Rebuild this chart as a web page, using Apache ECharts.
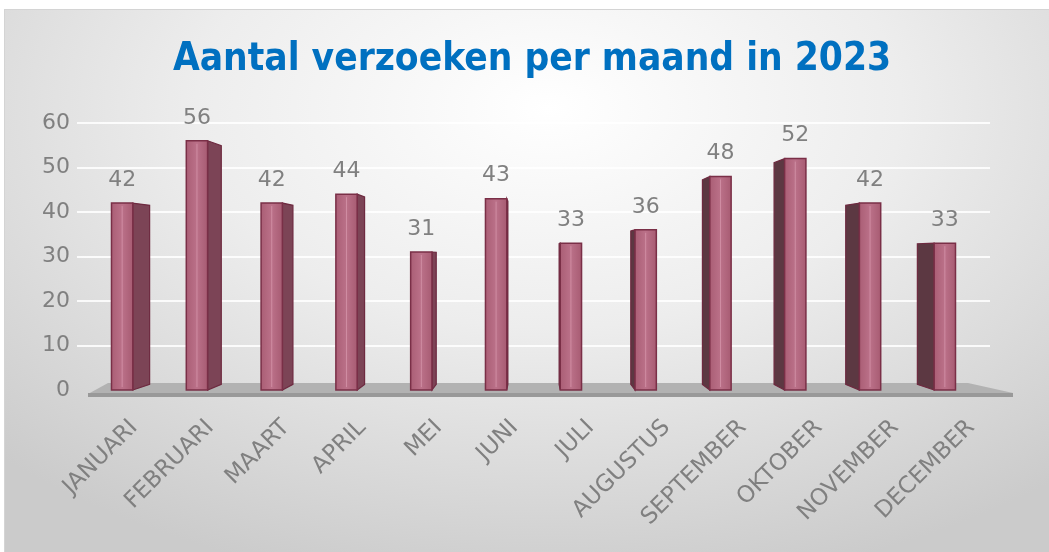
<!DOCTYPE html>
<html>
<head>
<meta charset="utf-8">
<script src="https://cdn.jsdelivr.net/npm/echarts@6/dist/echarts.min.js"></script>
<style>
  html, body { margin: 0; padding: 0; background: #fff; }
  #bg {
    position: absolute; left: 4px; top: 9px; width: 1045px; height: 543px;
    border-top: 1px solid #d4d4d4; border-left: 1px solid #d4d4d4;
    background: radial-gradient(ellipse 75% 90% at 52% 18%, #ffffff 0%, #ededed 45%, #cbcbcb 100%);
  }
  #chart { position: absolute; left: 0; top: 0; width: 1049px; height: 552px; }
</style>
</head>
<body>
<div id="bg"></div>
<div id="chart"></div>
<script>
// maanden en aantallen
const months = ['JANUARI', 'FEBRUARI', 'MAART', 'APRIL', 'MEI', 'JUNI', 'JULI', 'AUGUSTUS', 'SEPTEMBER', 'OKTOBER', 'NOVEMBER', 'DECEMBER']
const requests = [42, 56, 42, 44, 31, 43, 33, 36, 48, 52, 42, 33]
const yTicks = [0, 10, 20, 30, 40, 50, 60]

const K = 0.042 // diepte van de "3D" zijkant
const BACK = 0.983 // balken staan iets verder naar achteren dan de labels

// balk met zijkant die naar het midden wijkt
function renderBar(params, api) {
  const i = api.value(0)
  const v = api.value(1)
  const vp = [(api.coord([0, 0])[0] + api.coord([months.length - 1, 0])[0]) / 2, api.coord([0, 30])[1]]
  const p = api.coord([i, v])
  const base = api.coord([i, 0])
  const cx = vp[0] + (p[0] - vp[0]) * BACK
  const w = api.size([1, 0])[0] * 0.28
  const x0 = cx - w / 2
  const x1 = cx + w / 2
  const back = (x, y) => [x + (vp[0] - x) * K, y + (vp[1] - y) * K]
  const onLeft = cx < vp[0]
  const ex = onLeft ? x1 : x0
  const side = [[ex, p[1]], [ex, base[1]], back(ex, base[1]), back(ex, p[1])]

  return {
    type: 'group',
    children: [
      {
        type: 'polygon',
        shape: { points: side },
        style: { fill: onLeft ? '#7c4456' : '#5c3842', stroke: '#6e2a40', lineWidth: 1.2 }
      },
      {
        type: 'rect',
        shape: { x: x0, y: p[1], width: w, height: base[1] - p[1] },
        style: {
          fill: new echarts.graphic.LinearGradient(0, 0, 1, 0, [
            { offset: 0, color: '#a95d74' },
            { offset: 0.5, color: '#bb7189' },
            { offset: 1, color: '#a65a71' }
          ]),
          stroke: '#7a2f47', lineWidth: 1.5
        }
      },
      {
        type: 'line',
        shape: { x1: cx, y1: p[1] + 3, x2: cx, y2: base[1] - 3 },
        style: { stroke: 'rgba(230,170,190,0.5)', lineWidth: 1 }
      },
      {
        type: 'text',
        x: cx,
        y: p[1] - 12,
        style: {
          text: String(v),
          align: 'center',
          verticalAlign: 'bottom',
          fill: '#808080',
          font: '22px "DejaVu Sans"'
        }
      }
    ]
  }
}

const chart = echarts.init(document.getElementById('chart'), null, { renderer: 'canvas' })

chart.setOption({
  animation: false,
  backgroundColor: 'transparent',
  title: {
    text: 'Aantal verzoeken per maand in 2023',
    left: 527,
    top: 35,
    textAlign: 'center',
    textStyle: {
      color: '#0070c0',
      fontFamily: '"DejaVu Sans Condensed", "DejaVu Sans"',
      fontWeight: 'bold',
      fontSize: 38.5
    }
  },
  grid: { left: 77, right: 59, top: 123, bottom: 162, containLabel: false },
  graphic: [
    {
      type: 'polygon',
      z: 0,
      shape: { points: [[88, 394], [108, 383], [968, 383], [1013, 393]] },
      style: { fill: '#b2b2b2' }
    },
    {
      type: 'rect',
      z: 0,
      shape: { x: 88, y: 393, width: 925, height: 4 },
      style: { fill: '#999999' }
    }
  ],
  xAxis: {
    type: 'category',
    data: months,
    axisLine: { show: false },
    axisTick: { show: false },
    axisLabel: {
      interval: 0,
      rotate: 45,
      margin: 53,
      padding: [0, -27, 0, 0],
      color: '#808080',
      fontFamily: '"DejaVu Sans"',
      fontSize: 23
    }
  },
  yAxis: {
    type: 'value',
    min: yTicks[0],
    max: yTicks[yTicks.length - 1],
    interval: 10,
    axisLine: { show: false },
    axisTick: { show: false },
    axisLabel: { margin: 7, color: '#808080', fontFamily: '"DejaVu Sans"', fontSize: 22 },
    splitLine: { showMinLine: false, lineStyle: { color: 'rgba(255,255,255,0.85)', width: 2 } }
  },
  series: [
    {
      type: 'custom',
      renderItem: renderBar,
      data: requests.map((v, i) => [i, v]),
      z: 5
    }
  ]
})
</script>
</body>
</html>
